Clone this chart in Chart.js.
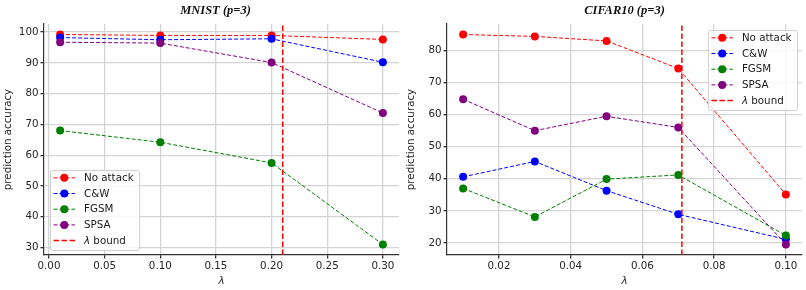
<!DOCTYPE html>
<html><head><meta charset="utf-8">
<script src="https://cdn.jsdelivr.net/npm/chart.js@4/dist/chart.umd.min.js"></script>
<style>
html,body{margin:0;padding:0;background:#fff;}
#wrap{position:relative;width:806px;height:290px;}
.c{position:absolute;top:0;width:403px;height:290px;}
</style></head>
<body>
<div id="wrap">
<div class="c" style="left:0"><canvas id="c1" width="403" height="290"></canvas></div>
<div class="c" style="left:403px"><canvas id="c2" width="403" height="290"></canvas></div>
</div>
<script>
// ---- data ----
const seriesNames = ["No attack", "C&W", "FGSM", "SPSA"];
const boundName = "λ bound";
const seriesColors = ["#ff0000", "#0000ff", "#008000", "#800080"];

const mnistTitle = "MNIST (p=3)";
const mnistX = [0.01, 0.10, 0.20, 0.30];
const mnistNoAttack = [99.2, 98.9, 98.9, 97.6];
const mnistCW = [98.2, 97.5, 97.8, 90.2];
const mnistFGSM = [68.0, 64.2, 57.5, 31.0];
const mnistSPSA = [96.7, 96.4, 90.1, 73.7];
const mnistBound = 0.21;
const mnistXTicks = [0.00, 0.05, 0.10, 0.15, 0.20, 0.25, 0.30];
const mnistYTicks = [30, 40, 50, 60, 70, 80, 90, 100];

const cifarTitle = "CIFAR10 (p=3)";
const cifarX = [0.01, 0.03, 0.05, 0.07, 0.10];
const cifarNoAttack = [85.0, 84.4, 83.0, 74.4, 35.1];
const cifarCW = [40.6, 45.4, 36.3, 28.9, 21.1];
const cifarFGSM = [37.0, 28.1, 39.9, 41.2, 22.3];
const cifarSPSA = [64.8, 55.0, 59.5, 56.0, 19.5];
const cifarBound = 0.071;
const cifarXTicks = [0.02, 0.04, 0.06, 0.08, 0.10];
const cifarYTicks = [20, 30, 40, 50, 60, 70, 80];

const yLabel = "prediction accuracy";
const xLabel = "λ";

// ---- helpers ----
const FS = 10.3;
function marginRange(vals, frac) {
  const mn = Math.min(...vals), mx = Math.max(...vals), d = mx - mn;
  return [mn - d * frac, mx + d * frac];
}

function drawLabel(ctx, text, x, y) {
  // italic for the Greek lambda, upright for the rest
  let cx = x;
  for (const part of text.split(/(λ)/)) {
    if (!part) continue;
    ctx.font = (part === 'λ' ? 'italic ' : '') + FS + 'px "DejaVu Sans"';
    ctx.fillText(part, cx, y);
    cx += ctx.measureText(part).width;
  }
}

const legendPlugin = {
  id: 'mplLegend',
  afterDatasetsDraw(chart, args, opts) {
    const ctx = chart.ctx, ca = chart.chartArea;
    ctx.save();
    ctx.font = FS + 'px "DejaVu Sans"';
    const items = chart.data.datasets;
    let tw = 0;
    items.forEach(d => { tw = Math.max(tw, ctx.measureText(d.label).width); });
    const rowH = 15.7;
    const w = 34 + tw + 5.5, h = 80;
    let x0, y0;
    if (opts.pos === 'lowerleft') { x0 = ca.left + 6; y0 = ca.bottom - 5 - h; }
    else { x0 = ca.right - 5 - w; y0 = ca.top + 6; }
    ctx.beginPath();
    if (ctx.roundRect) ctx.roundRect(x0 + 0.5, y0 + 0.5, w, h, 2.5); else ctx.rect(x0 + 0.5, y0 + 0.5, w, h);
    ctx.fillStyle = 'rgba(255,255,255,0.8)';
    ctx.fill();
    ctx.strokeStyle = '#d0d0d0';
    ctx.lineWidth = 1;
    ctx.stroke();
    items.forEach((d, i) => {
      const cy = y0 + 7.8 + i * rowH;
      ctx.beginPath();
      ctx.setLineDash(d.borderDash || []);
      ctx.strokeStyle = d.borderColor;
      ctx.lineWidth = d.borderWidth;
      ctx.moveTo(x0 + 3.5, cy); ctx.lineTo(x0 + 25, cy);
      ctx.stroke();
      ctx.setLineDash([]);
      if (d.pointRadius > 0) {
        ctx.beginPath();
        ctx.arc(x0 + 14.3, cy, 4, 0, Math.PI * 2);
        ctx.fillStyle = d.pointBackgroundColor;
        ctx.fill();
      }
      ctx.fillStyle = '#1a1a1a';
      ctx.textBaseline = 'middle';
      ctx.textAlign = 'left';
      drawLabel(ctx, d.label, x0 + 34, cy + 0.5);
    });
    ctx.restore();
  }
};

const titlePlugin = {
  id: 'mplTitle',
  afterDraw(chart, args, opts) {
    const ctx = chart.ctx, ca = chart.chartArea;
    ctx.save();
    ctx.font = 'italic bold 12.5px "Liberation Serif"';
    ctx.fillStyle = '#111';
    ctx.textAlign = 'center';
    ctx.textBaseline = 'middle';
    ctx.fillText(opts.text, (ca.left + ca.right) / 2 + (opts.dx || 0), 10.5);
    ctx.restore();
  }
};

function makeChart(id, title, xs, ys, bound, xTicks, yTicks, legendPos, titleDx) {
  const allY = [].concat(...ys);
  const [ymin, ymax] = marginRange(allY, 0.05);
  const [xmin, xmax] = marginRange(xs, 0.05);
  const n = ys.length;
  const datasets = ys.map((arr, i) => ({
    label: seriesNames[i],
    data: xs.map((x, j) => ({ x: x, y: arr[j] })),
    borderColor: seriesColors[i],
    backgroundColor: seriesColors[i],
    pointBackgroundColor: seriesColors[i],
    pointBorderColor: seriesColors[i],
    pointRadius: 4,
    pointBorderWidth: 0,
    borderWidth: 1,
    borderDash: [4, 2],
    order: n + 1 - i,
    tension: 0
  }));
  datasets.push({
    label: boundName,
    data: [{ x: bound, y: ymin }, { x: bound, y: ymax }],
    borderColor: '#ff0000',
    backgroundColor: '#ff0000',
    pointBackgroundColor: '#ff0000',
    pointRadius: 0,
    borderWidth: 1.5,
    borderDash: [5.5, 2.5],
    order: 0
  });
  const tickFont = { family: 'DejaVu Sans', size: FS };
  const gridOpts = { color: '#d4d4d4', lineWidth: 1.3, tickColor: '#333', tickLength: 3.5 };
  return new Chart(document.getElementById(id), {
    type: 'line',
    data: { datasets },
    plugins: [legendPlugin, titlePlugin],
    options: {
      responsive: false,
      animation: false,
      events: [],
      layout: { padding: { top: 24, right: 3.5, left: 0, bottom: 0 } },
      plugins: {
        legend: { display: false },
        tooltip: { enabled: false },
        mplLegend: { pos: legendPos },
        mplTitle: { text: title, dx: titleDx }
      },
      scales: {
        x: {
          type: 'linear',
          min: xmin, max: xmax,
          afterFit: s => { s.height = 35; },
          afterBuildTicks: s => { s.ticks = xTicks.map(v => ({ value: v })); },
          ticks: {
            color: '#262626', font: tickFont, padding: 2,
            maxRotation: 0, autoSkip: false,
            callback: v => Number(v).toFixed(2)
          },
          grid: gridOpts,
          border: { color: '#333', width: 1.2 },
          title: {
            display: true, text: xLabel, color: '#262626',
            font: { family: 'DejaVu Sans', size: FS, style: 'italic' },
            padding: { top: 0, bottom: 2 }
          }
        },
        y: {
          type: 'linear',
          min: ymin, max: ymax,
          afterFit: s => { s.width = 44; },
          afterBuildTicks: s => { s.ticks = yTicks.map(v => ({ value: v })); },
          ticks: {
            color: '#262626', font: tickFont, padding: 2, autoSkip: false,
            callback: v => String(v)
          },
          grid: gridOpts,
          border: { color: '#333', width: 1.2 },
          title: {
            display: true, text: yLabel, color: '#262626',
            font: { family: 'DejaVu Sans', size: FS },
            padding: { top: 2, bottom: 0 }
          }
        }
      }
    }
  });
}

makeChart('c1', mnistTitle, mnistX, [mnistNoAttack, mnistCW, mnistFGSM, mnistSPSA], mnistBound, mnistXTicks, mnistYTicks, 'lowerleft', -6);
makeChart('c2', cifarTitle, cifarX, [cifarNoAttack, cifarCW, cifarFGSM, cifarSPSA], cifarBound, cifarXTicks, cifarYTicks, 'upperright', 0);
</script>
</body></html>
